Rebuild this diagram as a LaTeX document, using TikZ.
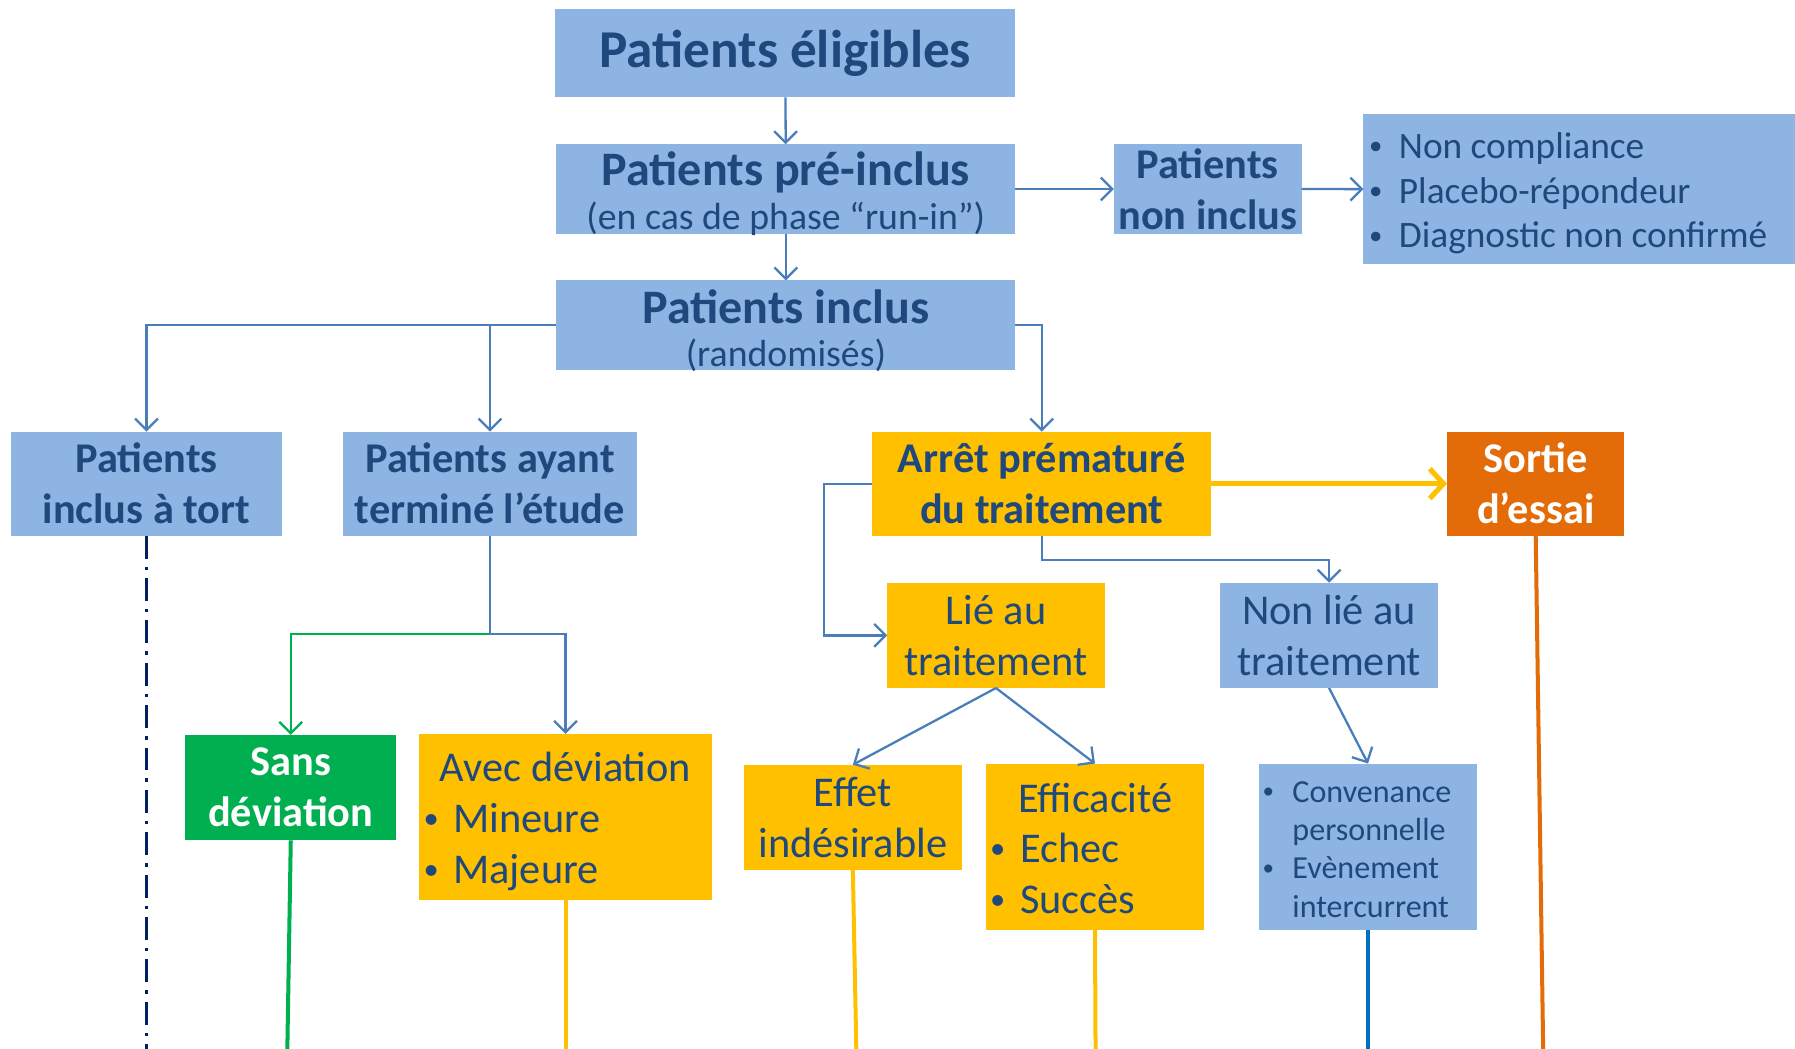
\documentclass[tikz,border=0pt]{standalone}
\usepackage{fontspec}
\usepackage{graphicx}
\setmainfont{Carlito}
\usetikzlibrary{arrows.meta}
\definecolor{boxblue}{HTML}{8EB4E3}
\definecolor{txtblue}{HTML}{1F497D}
\definecolor{conblue}{HTML}{4A7EBB}
\definecolor{boxyellow}{HTML}{FFC000}
\definecolor{boxorange}{HTML}{E36C09}
\definecolor{boxgreen}{HTML}{00B050}
\definecolor{navy}{HTML}{002060}
\definecolor{lineblue}{HTML}{0070C0}
\newcommand\fszTop{\fontsize{46.5}{56}\selectfont\bfseries}
\newcommand\fszB{\fontsize{42}{38}\selectfont\bfseries}
\newcommand\fszS{\fontsize{33}{38}\selectfont\mdseries}
\newcommand\fszM{\fontsize{37}{44.5}\selectfont\bfseries}
\newcommand\fszR{\fontsize{37}{44.5}\selectfont}
\newcommand\fszL{\fontsize{32.6}{39}\selectfont}
\newcommand\fszC{\fontsize{28}{33.5}\selectfont}
\newcommand\bul{\makebox[26pt][l]{\raisebox{0.1em}{\scalebox{0.72}{•}}}}
\newcommand\nobul{\makebox[26pt][l]{}}
\begin{document}
\begin{tikzpicture}[x=1pt,y=-1pt,
  box/.style={inner sep=0pt, outer sep=0pt, align=center, text=txtblue},
  bbox/.style={box, fill=boxblue},
  ybox/.style={box, fill=boxyellow},
  txt/.style={inner sep=0pt, outer sep=0pt, text=txtblue, anchor=west},
  arr/.style={draw=conblue, line width=2pt, -{Straight Barb[length=10pt,width=20pt]}},
  garr/.style={draw=boxgreen, line width=2pt, -{Straight Barb[length=10pt,width=20pt]}},
  vline/.style={line width=3.5pt}
]
\useasboundingbox (0,0) rectangle (1568,916.3);

% row 1-3
\node[bbox, minimum width=402pt, minimum height=77pt, font=\fszTop] (elig) at (686,46.5) {Patients éligibles};
\node[bbox, minimum width=401pt, minimum height=78pt] (pre) at (686.5,165) {};
\node[txt, anchor=center, align=center, font=\fszB] (pretxt) at (686.5,169) {Patients pré-inclus\\{\fszS (en cas de phase “run-in”)}};
\node[bbox, minimum width=164pt, minimum height=78pt, font=\fszM] (noninc) at (1055,165) {Patients\\non inclus};
\node[bbox, minimum width=377pt, minimum height=131pt] (list) at (1379.5,165.5) {};
\node[txt, font=\fszL, align=left] (listtxt) at (1196,169) {\bul Non compliance\\\bul Placebo-répondeur\\\bul Diagnostic non confirmé};
\node[bbox, minimum width=401pt, minimum height=78pt] (inclus) at (686.5,284) {};
\node[txt, anchor=center, align=center, font=\fszB] (inctxt) at (686.5,289) {Patients inclus\\{\fszS (randomisés)}};

% row 4
\node[bbox, minimum width=236pt, minimum height=91pt, font=\fszM] (tort) at (128,422.5) {Patients\\inclus à tort};
\node[bbox, minimum width=256pt, minimum height=91pt, font=\fszM] (ayant) at (428,422.5) {Patients ayant\\terminé l’étude};
\node[ybox, minimum width=296pt, minimum height=91pt, font=\fszM] (arret) at (910,422.5) {Arrêt prématuré\\du traitement};
\node[box, fill=boxorange, text=white, minimum width=155pt, minimum height=91pt, font=\fszM] (sortie) at (1341.5,422.5) {Sortie\\d’essai};

% row 5
\node[ybox, minimum width=190pt, minimum height=92pt, font=\fszR] (lie) at (870,555) {Lié au\\traitement};
\node[bbox, minimum width=190pt, minimum height=92pt, font=\fszR] (nonlie) at (1161,555) {Non lié au\\traitement};

% row 6
\node[box, fill=boxgreen, text=white, minimum width=184pt, minimum height=92pt, font=\fszM] (sans) at (254,688) {Sans\\déviation};
\node[ybox, minimum width=256pt, minimum height=145pt] (avec) at (494,713.5) {};
\node[txt, font=\fszR, anchor=center] (avect) at (494,670) {Avec déviation};
\node[txt, font=\fszR, align=left, anchor=north west] (avecl) at (370,702) {\bul Mineure\\\bul Majeure};
\node[ybox, minimum width=190pt, minimum height=92pt, font=\fszR] (effet) at (745,714) {Effet\\indésirable};
\node[ybox, minimum width=191pt, minimum height=145pt] (effic) at (956.5,739.5) {};
\node[txt, font=\fszR, anchor=center] (effict) at (957,697) {Efficacité};
\node[txt, font=\fszR, align=left, anchor=north west] (efficl) at (865,728) {\bul Echec\\\bul Succès};
\node[bbox, minimum width=190pt, minimum height=145pt] (conv) at (1195,739.5) {};
\node[txt, font=\fszC, align=left, anchor=west] (convl) at (1103,742) {\bul Convenance\\\nobul personnelle\\\bul Evènement\\\nobul intercurrent};

% connectors
\draw[arr] (elig) -- (pre);
\draw[arr] (pre) -- (inclus);
\draw[arr] (pre) -- (noninc);
\draw[arr] (noninc) -- (list);
\draw[arr] (inclus.west) -| (tort.north);
\draw[arr] (ayant.north |- inclus.west) -- (ayant.north);
\draw[arr] (inclus.east) -- ++(23,0) -| (arret.north);
\coordinate (split) at (428,554);
\draw[garr] (split) -| (sans.north);
\draw[arr] (ayant.south) -- (split) -| (avec.north);
\draw[arr] (arret.west) -- ++(-42,0) |- (lie.west);
\draw[arr] (arret.south) -- ++(0,21) -| (nonlie.north);
\draw[draw=boxyellow, line width=4.5pt, -{Straight Barb[length=12pt,width=26pt]}] (arret.east) -- (sortie.west);
\draw[arr] (lie.south) -- (effet.north);
\draw[arr] (lie.south) -- (effic.north);
\draw[arr] (nonlie.south) -- (conv.north);

% bottom lines
\coordinate (e1) at (128,916.3);
\coordinate (e2) at (251,916.3);
\coordinate (e3) at (494,916.3);
\coordinate (e4) at (748,916.3);
\coordinate (e5) at (957,916.3);
\coordinate (e6) at (1195,916.3);
\coordinate (e7) at (1348,916.3);
\draw[navy, line width=3pt, dash pattern=on 20pt off 7pt on 3pt off 7pt] (tort.south) -- (e1);
\draw[vline, boxgreen] (sans.south) -- (e2);
\draw[vline, boxyellow] (avec.south) -- (e3);
\draw[vline, boxyellow] (effet.south) -- (e4);
\draw[vline, boxyellow] (effic.south) -- (e5);
\draw[vline, lineblue] (conv.south) -- (e6);
\draw[vline, boxorange] (sortie.south) -- (e7);
\end{tikzpicture}
\end{document}
